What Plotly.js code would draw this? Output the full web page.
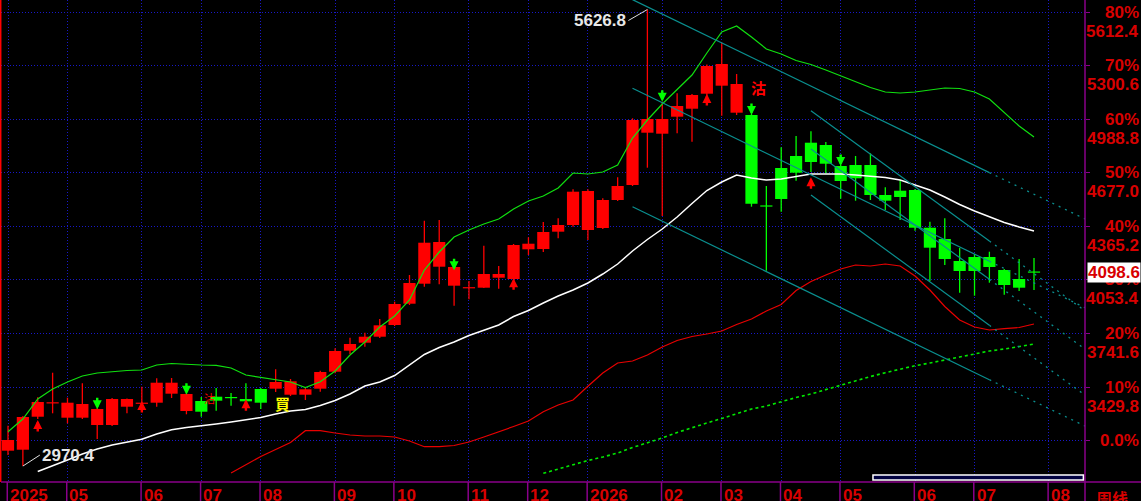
<!DOCTYPE html>
<html><head><meta charset="utf-8">
<script src="https://cdn.plot.ly/plotly-3.0.1.min.js"></script>
<style>html,body{margin:0;padding:0;background:#000;overflow:hidden}#chart{width:1141px;height:501px}</style>
</head><body><div id="chart"></div>
<script>
// ---- data (weekly bars) ----
const monthLabels = ['2025','05','06','07','08','09','10','11','12','2026','02','03','04','05','06','07','08'];
const monthStart  = [0,4,9,13,17,22,26,31,35,39,44,48,52,56,61,65,70];

const openP = [3059.8,3065.6,3257.6,3337.3,3251.8,3251.8,3209.3,3209.3,3315.8,3334.4,
 3339.1,3391.5,3290.8,3349.0,3374.0,3370.5,3360.6,3418.8,3420.6,3385.6,
 3385.6,3420.6,3519.5,3641.7,3688.2,3723.1,3791.2,3915.1,4031.5,4130.4,
 4019.9,4006.5,4008.2,4066.4,4058.8,4231.6,4233.4,4334.1,4373.0,4343.9,
 4355.6,4518.5,4605.8,4910.1,4904.3,5003.2,5049.7,5137.0,5183.6,5026.5,
 5013.1,4485.3,4704.7,4774.5,4851.9,4838.5,4716.3,4722.1,4722.1,4547.6,
 4572.6,4576.7,4357.3,4291.6,4163.6,4186.8,4186.8,4111.2,4058.8,4099.6];
const highP = [3205.3,3261.7,3370.5,3513.6,3368.2,3452.0,3308.2,3366.4,3363.5,3432.2,
 3481.0,3482.8,3395.5,3372.3,3424.6,3395.5,3452.0,3424.6,3533.4,3477.0,
 3424.6,3525.3,3655.6,3717.3,3746.4,3826.1,3926.8,4082.1,4398.1,4402.1,
 4146.1,4047.2,4252.6,4134.5,4262.5,4301.5,4390.5,4412.0,4580.8,4580.8,
 4528.4,4650.6,4993.9,5626.8,5090.5,5139.3,5135.3,5306.9,5433.8,5251.6,
 5018.9,4600.0,4825.1,4890.9,4918.2,4856.0,4722.1,4774.5,4790.2,4592.4,
 4634.9,4582.5,4392.2,4412.0,4239.2,4204.3,4217.7,4117.0,4175.2,4181.0];
const lowP = [3034.8,2970.4,3244.3,3277.4,3219.2,3244.3,3127.9,3203.5,3277.4,3296.6,
 3315.8,3366.4,3271.6,3257.6,3292.5,3321.6,3302.4,3302.4,3401.3,3378.1,
 3354.8,3403.1,3510.1,3622.5,3664.9,3715.5,3785.4,3907.6,4014.0,4028.0,
 3903.5,3940.7,4006.5,4002.4,4014.0,4198.5,4215.9,4295.6,4363.1,4285.8,
 4349.8,4512.7,4600.0,4706.4,4425.4,4906.6,4857.7,5123.6,5009.0,5013.1,
 4479.5,4107.1,4450.4,4630.8,4681.4,4673.9,4526.1,4514.4,4518.5,4460.3,
 4402.1,4339.9,4047.2,4140.3,3979.1,3961.7,4037.3,3967.5,3989.0,3994.8];
const closeP = [3122.1,3255.9,3343.2,3339.1,3339.1,3331.5,3302.4,3360.6,3360.6,3337.3,
 3455.4,3455.4,3389.7,3286.7,3350.8,3367.0,3347.2,3339.1,3459.5,3463.6,
 3417.0,3517.7,3639.9,3680.6,3723.1,3789.4,3913.4,4035.6,4270.0,4274.1,
 4128.7,4009.4,4087.9,4087.9,4256.7,4264.2,4332.3,4373.0,4566.8,4570.9,
 4518.5,4600.0,4984.0,4989.8,4989.8,5065.4,5129.4,5298.2,5309.8,5193.4,
 4497.0,4481.8,4524.3,4677.3,4739.6,4729.7,4629.1,4644.8,4547.6,4514.4,
 4536.0,4357.3,4241.0,4175.2,4105.4,4105.4,4128.7,4023.9,4008.2,4098.6];

const bandUpper = [3170.4,3244.3,3360.6,3418.8,3459.5,3494.4,3511.9,3520.6,3526.4,3529.4,
 3558.4,3567.2,3561.4,3558.4,3556.7,3541.0,3500.3,3486.9,3477.0,3459.5,
 3427.5,3461.3,3523.5,3616.6,3692.3,3779.6,3843.6,3936.6,4111.2,4215.9,
 4303.2,4343.9,4378.9,4407.9,4466.1,4512.7,4541.8,4588.3,4675.6,4669.8,
 4681.4,4722.1,4879.2,4984.0,5077.1,5158.5,5245.8,5373.8,5496.0,5530.9,
 5466.9,5397.1,5368.0,5330.2,5306.9,5274.9,5240.0,5208.0,5173.1,5146.9,
 5141.1,5146.9,5158.5,5170.2,5167.3,5146.9,5106.2,5024.7,4949.1,4885.1];
const bandMiddle = [null,null,2938.8,2970.8,3005.7,3040.6,3069.7,3093.0,3110.4,3126.1,
 3157.0,3182.0,3194.8,3203.5,3215.2,3226.8,3241.3,3253.0,3273.3,3290.8,
 3299.5,3322.8,3351.9,3389.7,3436.3,3459.5,3497.4,3558.4,3619.5,3660.3,
 3692.3,3730.1,3762.1,3791.2,3840.6,3875.6,3919.2,3959.9,3994.8,4035.6,
 4087.9,4146.1,4221.8,4288.7,4349.8,4419.6,4498.1,4573.8,4623.2,4664.0,
 4646.5,4634.9,4640.7,4655.2,4669.8,4669.8,4669.8,4664.0,4658.1,4649.4,
 4634.9,4605.8,4576.7,4536.0,4492.3,4454.5,4419.6,4387.6,4361.4,4338.1];
const lineRed = [null,null,null,null,null,null,null,null,null,null,
 null,null,null,null,null,2930.0,2979.5,3026.1,3066.8,3107.5,
 3176.2,3176.2,3162.8,3151.2,3145.3,3145.3,3139.5,3116.2,3083.1,3083.1,
 3090.1,3110.4,3139.5,3168.6,3200.6,3232.6,3286.7,3325.7,3354.8,3434.5,
 3511.9,3570.1,3581.7,3616.6,3663.2,3701.0,3724.3,3738.8,3756.3,3794.1,
 3826.1,3872.6,3910.5,3991.9,4044.3,4082.1,4117.0,4140.3,4134.5,4146.1,
 4134.5,4076.3,3994.8,3898.8,3820.3,3779.6,3762.1,3769.7,3776.6,3797.0];
const lineDotted = [null,null,null,null,null,null,null,null,null,null,
 null,null,null,null,null,null,null,null,null,null,
 null,null,null,null,null,null,null,null,null,null,
 null,null,null,null,null,null,2928.3,2953.3,2979.5,3002.8,
 3023.1,3046.4,3078.4,3104.6,3133.7,3165.7,3194.8,3221.0,3247.2,3276.3,
 3302.4,3319.9,3346.1,3369.3,3389.7,3415.9,3442.1,3468.3,3491.5,3513.6,
 3535.2,3554.4,3570.1,3585.8,3605.0,3622.5,3639.9,3651.5,3666.1,3680.6];

const levelPrice = [3118.0,3429.8,3741.6,4053.4,4365.2,4677.0,4988.8,5300.6,5612.4];
const levelPct   = ['0.0%','10%','20%','30%','40%','50%','60%','70%','80%'];
const levelPriceText = ['','3429.8','3741.6','4053.4','4365.2','4677.0','4988.8','5300.6','5612.4'];

const sellIdx = [6,12,30,44,50,56];
const sellPrice = [3300.7,3385.6,4110.0,5090.5,5013.1,4716.3];
const buyIdx = [2,9,16,34,47,54];
const buyPrice = [3238.4,3349.0,3359.0,4062.9,5135.3,4650.6];

const trendStartIdx = [42,42,42,54,54,54];
const trendEndIdx   = [66,66,66,66,66,66];
const trendStartPrice = [5684.5,5168.4,4479.5,5038.1,4815.2,4547.6];
const trendEndPrice   = [4677.9,4161.8,3472.9,4279.9,4057.1,3789.4];

const highLabel = '5626.8', lowLabel = '2970.4', lastLabel = '4098.6';

// ---- build ----
const xRange = [-0.471, 72.43];
const yRange = [2877.7, 5682.2];
const RED = '#ff0000', GRN = '#00ff00', LBL = '#d80000', PUR = '#8a008a';
const idx = openP.map((_, i) => i);
const minBody = 7;

function candleGroup(isUp) {
  const xs = [], base = [], h = [], wx = [], wy = [];
  idx.forEach(i => {
    const up = closeP[i] >= openP[i];
    if (up !== isUp) return;
    const lo = Math.min(openP[i], closeP[i]), hi = Math.max(openP[i], closeP[i]);
    let d = hi - lo, b = lo;
    if (d < minBody) { b = (lo + hi) / 2 - minBody / 2; d = minBody; }
    xs.push(i); base.push(b); h.push(d);
    wx.push(i, i, null); wy.push(lowP[i], highP[i], null);
  });
  const col = isUp ? RED : GRN;
  return [
    {type:'scatter', mode:'lines', x:wx, y:wy, line:{color:col, width:1.3}, hoverinfo:'skip'},
    {type:'bar', x:xs, y:h, base:base, width:0.82, marker:{color:col, line:{width:0}}, hoverinfo:'skip'}
  ];
}

const traces = [].concat(candleGroup(true), candleGroup(false));
traces.push({type:'scatter', mode:'lines', x:idx, y:lineRed, line:{color:'#e80000', width:1.2}, hoverinfo:'skip'});
traces.push({type:'scatter', mode:'lines', x:idx, y:lineDotted, line:{color:'#00e800', width:1.6, dash:'3px,3px'}, hoverinfo:'skip'});
traces.push({type:'scatter', mode:'lines', x:idx, y:bandMiddle, line:{color:'#ffffff', width:1.5}, hoverinfo:'skip'});
traces.push({type:'scatter', mode:'lines', x:idx, y:bandUpper, line:{color:'#10e010', width:1.2}, hoverinfo:'skip'});

trendStartIdx.forEach((s, k) => {
  const e = trendEndIdx[k];
  const slope = (trendEndPrice[k] - trendStartPrice[k]) / (e - s);
  traces.push({type:'scatter', mode:'lines', x:[s, e], y:[trendStartPrice[k], trendEndPrice[k]],
    line:{color:'#0a8f8f', width:1.2}, hoverinfo:'skip'});
  traces.push({type:'scatter', mode:'lines', x:[e, xRange[1]], y:[trendEndPrice[k], trendEndPrice[k] + slope * (xRange[1] - e)],
    line:{color:'#0a8f8f', width:1.3, dash:'2px,5px'}, hoverinfo:'skip'});
});

const ann = [];
const bfont = (sz, col) => ({family:'Liberation Sans, Arial, sans-serif', size:sz, color:col});
levelPrice.forEach((p, k) => {
  ann.push({xref:'paper', yref:'y', x:1, y:p, xanchor:'right', yanchor:'middle', xshift:56,
    text:'<b>' + levelPct[k] + '</b>', showarrow:false, font:bfont(17, LBL)});
  if (levelPriceText[k]) ann.push({xref:'paper', yref:'y', x:1, y:p, xanchor:'right', yanchor:'middle', xshift:56, yshift:-19,
    text:'<b>' + levelPriceText[k] + '</b>', showarrow:false, font:bfont(17, LBL)});
});
ann.push({xref:'paper', yref:'y', x:1, y:closeP[closeP.length - 1], xanchor:'right', yanchor:'middle', xshift:56,
  text:'<b>' + lastLabel + '</b>', showarrow:false, font:bfont(17, LBL), bgcolor:'#ffffff', borderpad:0});
monthStart.forEach((m, k) => {
  ann.push({xref:'x', yref:'paper', x:m, y:0, xanchor:'left', yanchor:'top', xshift:0, yshift:-2,
    text:'<b>' + monthLabels[k] + '</b>', showarrow:false, font:bfont(17, LBL)});
});
ann.push({xref:'paper', yref:'paper', x:1, y:0, xanchor:'left', yanchor:'top', xshift:9, yshift:-2,
  text:'<b>周线</b>', showarrow:false, font:{family:'Noto Sans CJK SC', size:16, color:LBL}});

const hiI = highP.indexOf(Math.max(...highP));
const loI = lowP.indexOf(Math.min(...lowP));
ann.push({x:hiI, y:highP[hiI], text:'<b>' + highLabel + '</b>', showarrow:true, arrowhead:0, arrowwidth:1, arrowcolor:'#e0e0e0',
  ax:-19, ay:11, xanchor:'right', yanchor:'middle', font:bfont(17, '#e8e8e8'), standoff:0});
ann.push({x:loI, y:lowP[loI], text:'<b>' + lowLabel + '</b>', showarrow:true, arrowhead:0, arrowwidth:1, arrowcolor:'#e0e0e0',
  ax:17, ay:-11, xanchor:'left', yanchor:'middle', font:bfont(17, '#e8e8e8'), standoff:0});

sellIdx.forEach((i, k) => ann.push({x:i, y:sellPrice[k], text:'', showarrow:true, arrowhead:2, arrowsize:0.75, arrowwidth:2.4,
  arrowcolor:GRN, ax:0, ay:-13, standoff:0}));
buyIdx.forEach((i, k) => ann.push({x:i, y:buyPrice[k], text:'', showarrow:true, arrowhead:2, arrowsize:0.75, arrowwidth:2.4,
  arrowcolor:RED, ax:0, ay:13, standoff:0}));

ann.push({x:50, y:5175, xshift:7, text:'<b>沽</b>', showarrow:false, font:{family:'Noto Sans CJK TC', size:15, color:RED}});
ann.push({x:13, y:3366, xshift:8, text:'沽', showarrow:false, font:{family:'Noto Sans CJK TC', size:11, color:RED}});
ann.push({x:18, y:3337, xshift:7, text:'<b>買</b>', showarrow:false, font:{family:'Noto Sans CJK TC', size:15, color:'#ffff00'}});

const shapes = [
  {type:'line', xref:'paper', yref:'paper', x0:-0.0005, x1:-0.0005, y0:0, y1:1, line:{color:'#ff0000', width:2}},
  {type:'line', xref:'paper', yref:'paper', x0:1, x1:1, y0:-0.05, y1:1, line:{color:PUR, width:1.5}},
  {type:'line', xref:'paper', yref:'paper', x0:0, x1:1.06, y0:0, y1:0, line:{color:PUR, width:1.5}},
  {type:'rect', xref:'paper', yref:'paper', x0:0.8044, x1:0.9985, y0:0.0042, y1:0.0145, line:{color:'#ffffff', width:1.5}, fillcolor:'#000040'}
];
monthStart.forEach(m => shapes.push({type:'line', xref:'x', yref:'paper', x0:m - 0.05, x1:m - 0.05, y0:0, y1:-0.05, line:{color:PUR, width:1.5}}));

const layout = {
  width:1141, height:501, margin:{l:1, r:56, t:0, b:19},
  paper_bgcolor:'#000000', plot_bgcolor:'#000000', showlegend:false, barmode:'overlay',
  xaxis:{range:xRange, tickvals:monthStart, showticklabels:false, ticks:'', showgrid:true,
    gridcolor:'#1818c8', griddash:'1px,2px', gridwidth:1, zeroline:false, showline:false, fixedrange:true},
  yaxis:{range:yRange, tickvals:levelPrice, showticklabels:false, side:'right', ticks:'outside', ticklen:4, tickcolor:PUR,
    showgrid:true, gridcolor:'#1818c8', griddash:'1px,2px', gridwidth:1, zeroline:false, showline:false, fixedrange:true},
  annotations:ann, shapes:shapes, hovermode:false
};
Plotly.newPlot('chart', traces, layout, {staticPlot:true, displayModeBar:false});
</script></body></html>
